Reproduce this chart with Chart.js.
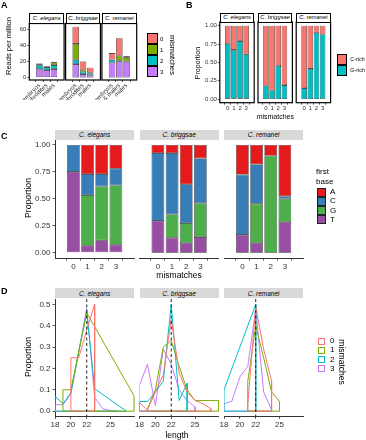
<!DOCTYPE html>
<html><head><meta charset="utf-8">
<script src="https://cdn.jsdelivr.net/npm/chart.js@4.4.1/dist/chart.umd.min.js"></script>
<style>
html,body{margin:0;padding:0;background:#fff;}
#wrap{position:relative;width:366px;height:440px;overflow:hidden;font-family:"Liberation Sans",Arial,sans-serif;background:#fff;}
canvas{position:absolute;left:0;top:0;}
.t{position:absolute;white-space:nowrap;line-height:1;color:#000;}
.box{position:absolute;box-sizing:border-box;}
</style></head><body><div id="wrap"></div>
<script>
// ---------------- DATA ----------------
const species = ["C. elegans", "C. briggsae", "C. remanei"];
const mismatchLevels = ["0", "1", "2", "3"];
const stagesElegans = ["embryos", "hermaphrodites", "males"];
const stagesBriggsae = ["embryos", "hermaphrodites", "males"];
const stagesRemanei = ["embryos", "females & males", "males"];
// Panel A: reads per million; rows = mismatches 0,1,2,3 ; columns = stages
const readsElegans  = [[1.0, 0.7, 0.8], [1.0, 0.6, 3.4], [5.0, 3.7, 5.0], [10.5, 9.2, 10.4]];
const readsBriggsae = [[21.6, 10.4, 5.9], [19.7, 2.5, 1.3], [5.3, 2.9, 2.5], [16.7, 4.2, 2.5]];
const readsRemanei  = [[8.1, 21.8, 1.3], [0.3, 6.2, 5.0], [3.7, 1.2, 0.8], [18.3, 19.6, 19.2]];
const readsTicks = [0, 20, 40, 60];
// Panel B: proportion G-rich per mismatch (C-rich = 1 - G-rich)
const richLevels = ["C-rich", "G-rich"];
const gRichElegans  = [0.75, 0.67, 0.79, 0.61];
const gRichBriggsae = [0.18, 0.12, 0.45, 0.19];
const gRichRemanei  = [0.15, 0.41, 0.90, 0.88];
const proportionTicks = [0, 0.25, 0.5, 0.75, 1];
const proportionLabels = ["0.00", "0.25", "0.50", "0.75", "1.00"];
// Panel C: first base proportions; rows = A,C,G,T ; columns = mismatches 0..3
const firstBases = ["A", "C", "G", "T"];
const baseElegans  = [[0, 0.27, 0.27, 0.22], [0.25, 0.195, 0.115, 0.155], [0, 0.47, 0.50, 0.55], [0.75, 0.065, 0.115, 0.075]];
const baseBriggsae = [[0.075, 0.075, 0.365, 0.125], [0.63, 0.57, 0.36, 0.415], [0, 0.215, 0.185, 0.315], [0.295, 0.14, 0.09, 0.145]];
const baseRemanei  = [[0.275, 0.18, 0.10, 0.475], [0.56, 0.365, 0, 0.025], [0, 0.365, 0.90, 0.215], [0.165, 0.09, 0, 0.285]];
// Panel D: length distributions per mismatch (lengths, proportions)
const lenElegans = [[20, 21, 22, 23], [19, 20, 22, 28], [18, 19, 20, 22, 23, 27], [18, 19, 20, 22, 23, 24, 25, 26]];
const propElegans = [[0.25, 0.25, 0.38, 0.50], [0.10, 0.10, 0.46, 0.07], [0.07, 0.035, 0.085, 0.47, 0.105, 0], [0.03, 0.03, 0.08, 0.48, 0.065, 0.012, 0.003, 0]];
const lenBriggsae = [[18, 19, 20, 21, 22, 23, 24, 25, 26, 27], [19, 20, 21, 22, 23, 24, 25, 26, 27, 28], [18, 19, 20, 21, 22, 23, 24], [18, 19, 20, 21, 22, 23, 24, 25]];
const propBriggsae = [[0.04, 0.005, 0.09, 0.17, 0.43, 0.18, 0.09, 0.05, 0.035, 0.012], [0.01, 0.10, 0.30, 0.33, 0.21, 0.10, 0.05, 0.05, 0.05, 0.05], [0.045, 0.045, 0.09, 0.14, 0.50, 0.05, 0.13], [0.12, 0.22, 0.025, 0.29, 0.22, 0.10, 0.05, 0.02]];
const lenRemanei = [[21, 22, 23, 24], [21, 22, 23, 24, 25], [18, 22], [18, 19, 20, 21, 22, 23, 24]];
const propRemanei = [[0.03, 0.49, 0.29, 0.14], [0.14, 0.40, 0.25, 0.09, 0.045], [0.10, 0.50], [0.035, 0.047, 0.16, 0.21, 0.48, 0.09, 0.005]];
const lengthTicks = [18, 20, 22, 25];
const proportionDTicks = [0, 0.1, 0.2, 0.3, 0.4, 0.5];
const modalLength = 22;

// ---------------- STYLE ----------------
const W = 366, H = 440;
const colMM = ['#F8766D', '#7CAE00', '#00BFC4', '#C77CFF'];
const colBase = ['#E41A1C', '#377EB8', '#4DAF4A', '#984EA3'];
const colRich = ['#F8766D', '#00BFC4'];
Chart.defaults.font.family = '"Liberation Sans", Arial, sans-serif';
Chart.defaults.color = '#333';

const wrap = document.getElementById('wrap');

Chart.register({
  id: 'frame',
  afterDatasetsDraw(chart, args, o) {
    if (!o || !o.on) return;
    const a = chart.chartArea, ctx = chart.ctx;
    ctx.save(); ctx.strokeStyle = '#000'; ctx.lineWidth = 1.2;
    ctx.strokeRect(a.left, a.top, a.right - a.left, a.bottom - a.top);
    ctx.restore();
  }
});
Chart.register({
  id: 'vline',
  afterDatasetsDraw(chart, args, o) {
    if (!o || o.x == null) return;
    const a = chart.chartArea, ctx = chart.ctx;
    const px = chart.scales.x.getPixelForValue(o.x);
    ctx.save(); ctx.strokeStyle = '#222'; ctx.lineWidth = 1; ctx.setLineDash([3, 2.5]);
    ctx.beginPath(); ctx.moveTo(px, a.top); ctx.lineTo(px, a.bottom); ctx.stroke();
    ctx.restore();
  }
});

const YW = 25, XH = 20;
function scaleX(o) {
  return {
    type: 'linear', min: o.min, max: o.max, stacked: !!o.stacked,
    afterBuildTicks: s => { s.ticks = o.ticks.map(v => ({ value: v })); },
    afterFit: s => { s.height = XH; s.paddingLeft = 0; s.paddingRight = 0; },
    ticks: { autoSkip: false, maxRotation: o.rot || 0, minRotation: o.rot || 0, padding: o.pad != null ? o.pad : 1,
      font: { size: o.size }, color: '#333', callback: (v, i) => o.labels[i] },
    grid: { display: true, drawOnChartArea: false, drawTicks: true, tickLength: o.tl || 2.5, color: '#333', lineWidth: 0.8 },
    border: { display: !!o.line, color: '#333', width: 1 }
  };
}
function scaleY(o) {
  return {
    type: 'linear', display: !!o.show, min: o.min, max: o.max, stacked: !!o.stacked,
    afterBuildTicks: s => { s.ticks = o.ticks.map(v => ({ value: v })); },
    afterFit: s => { s.width = o.show ? YW : 0; s.paddingTop = 0; s.paddingBottom = 0; },
    ticks: { autoSkip: false, padding: o.pad != null ? o.pad : 2, font: { size: o.size }, color: '#333',
      callback: (v, i) => o.labels[i] },
    grid: { display: true, drawOnChartArea: false, drawTicks: true, tickLength: o.tl || 2.5, color: '#333', lineWidth: 0.8 },
    border: { display: !!o.line, color: '#333', width: 1 }
  };
}
function facet(cfg) {
  const c = document.createElement('canvas');
  c.width = W; c.height = H; c.style.width = W + 'px'; c.style.height = H + 'px';
  wrap.appendChild(c);
  const showY = !!cfg.y.show;
  return new Chart(c, {
    type: cfg.type,
    data: { datasets: cfg.datasets },
    options: {
      responsive: false, animation: false, devicePixelRatio: 1, events: [],
      layout: { padding: { left: cfg.l - (showY ? YW : 0), top: cfg.t, right: W - cfg.r, bottom: H - cfg.b - XH } },
      plugins: { legend: { display: false }, tooltip: { enabled: false }, frame: { on: !!cfg.frame }, vline: { x: cfg.vline } },
      scales: { x: scaleX(cfg.x), y: scaleY(cfg.y) }
    }
  });
}
function txt(s, x, y, o = {}) {
  const d = document.createElement('div');
  d.className = 't'; d.textContent = s;
  d.style.fontSize = (o.size || 8) + 'px';
  if (o.italic) d.style.fontStyle = 'italic';
  if (o.bold) d.style.fontWeight = 'bold';
  d.style.color = o.color || '#000';
  d.style.left = x + 'px'; d.style.top = y + 'px';
  const ax = o.align === 'left' ? '0%' : o.align === 'right' ? '-100%' : '-50%';
  d.style.transform = `translate(${ax},-50%)` + (o.rot ? ` rotate(${o.rot}deg)` : '');
  wrap.appendChild(d);
}
function box(l, t, w, h, bg, border) {
  const d = document.createElement('div');
  d.className = 'box';
  d.style.left = l + 'px'; d.style.top = t + 'px'; d.style.width = w + 'px'; d.style.height = h + 'px';
  d.style.background = bg; if (border) d.style.border = border;
  wrap.appendChild(d);
}
function strip(l, t, w, h, label, bg, border, size) {
  box(l, t, w, h, bg, border);
  txt(label, l + w / 2, t + h / 2 + 0.3, { size: size, italic: true });
}

// ---------------- PANEL A ----------------
const aReads = [readsElegans, readsBriggsae, readsRemanei];
const aStages = [stagesElegans, stagesBriggsae, stagesRemanei];
const aLeft = [29.3, 65.6, 101.9], aW = 34.8, aTop = 23.5, aBot = 80;
aReads.forEach((rows, f) => {
  const ds = [3, 2, 1, 0].map(m => ({
    data: rows[m].map((v, i) => ({ x: i + 1, y: v })),
    backgroundColor: colMM[m], borderColor: '#000', borderWidth: 0.6, borderSkipped: false,
    barPercentage: 0.9, categoryPercentage: 1
  }));
  facet({ type: 'bar', datasets: ds, l: aLeft[f], t: aTop, r: aLeft[f] + aW, b: aBot, frame: true,
    x: { min: 0.4, max: 3.6, ticks: [1, 2, 3], labels: aStages[f], rot: 45, size: 6, stacked: true, tl: 2, pad: 0 },
    y: { show: f === 0, min: -3.2, max: 67.2, ticks: readsTicks, labels: readsTicks.map(String), size: 6, stacked: true, tl: 2, pad: 1 } });
  strip(aLeft[f], 13, aW, 11, species[f], '#fff', '1.2px solid #000', 5.8);
});
txt('Reads per million', 9.3, 46, { size: 7.5, rot: -90 });
[0, 1, 2, 3].forEach(m => {
  box(147, 33.3 + m * 11, 10.5, 11, colMM[m], '0.8px solid #000');
  txt(mismatchLevels[m], 160, 38.8 + m * 11, { size: 6, align: 'left' });
});
txt('mismatches', 171.5, 55, { size: 7.5, rot: 90 });
txt('A', 1, 5, { size: 9, bold: true, align: 'left' });

// ---------------- PANEL B ----------------
const bG = [gRichElegans, gRichBriggsae, gRichRemanei];
const bLeft = [219.8, 258, 296.2], bW = 34.4, bTop = 22, bBot = 102.7;
bG.forEach((g, f) => {
  const ds = [
    { data: g.map((v, i) => ({ x: i + 1, y: v })), backgroundColor: colRich[1] },
    { data: g.map((v, i) => ({ x: i + 1, y: 1 - v })), backgroundColor: colRich[0] }
  ].map(d => Object.assign(d, { borderColor: '#000', borderWidth: 0.6, borderSkipped: false, barPercentage: 0.9, categoryPercentage: 1 }));
  facet({ type: 'bar', datasets: ds, l: bLeft[f], t: bTop, r: bLeft[f] + bW, b: bBot, frame: true,
    x: { min: 0.4, max: 4.6, ticks: [1, 2, 3, 4], labels: mismatchLevels, size: 6, stacked: true, tl: 2, pad: 0 },
    y: { show: f === 0, min: -0.05, max: 1.05, ticks: proportionTicks, labels: proportionLabels, size: 6, stacked: true, tl: 2, pad: 1 } });
  strip(bLeft[f], 13, bW, 10, species[f], '#fff', '1.2px solid #000', 5.8);
});
txt('Proportion', 196.7, 63, { size: 7, rot: -90 });
txt('mismatches', 275.3, 115.5, { size: 7 });
[0, 1].forEach(k => {
  box(336.7, 54.3 + k * 11, 10.3, 11, colRich[k], '0.8px solid #000');
  txt(richLevels[k], 350.3, 59.6 + k * 11, { size: 5.4, align: 'left' });
});
txt('B', 186, 5, { size: 9, bold: true, align: 'left' });

// ---------------- PANEL C ----------------
const cBase = [baseElegans, baseBriggsae, baseRemanei];
const cLeft = [55, 139.5, 224], cW = 79.3, cTop = 139.6, cBot = 258.1;
cBase.forEach((rows, f) => {
  const ds = [3, 2, 1, 0].map(k => ({
    data: rows[k].map((v, i) => ({ x: i + 1, y: v })),
    backgroundColor: colBase[k], borderColor: '#222', borderWidth: 0.6, borderSkipped: false,
    barPercentage: 0.9, categoryPercentage: 1
  }));
  facet({ type: 'bar', datasets: ds, l: cLeft[f], t: cTop, r: cLeft[f] + cW, b: cBot,
    x: { min: 0.4, max: 4.6, ticks: [1, 2, 3, 4], labels: mismatchLevels, size: 8, stacked: true, line: true, tl: 2.5, pad: 1 },
    y: { show: f === 0, min: -0.05, max: 1.05, ticks: proportionTicks, labels: proportionLabels, size: 8, stacked: true, line: true, tl: 2.5, pad: 2 } });
  strip(cLeft[f], 130, cW, 9.6, species[f], '#D9D9D9', null, 6.5);
});
txt('Proportion', 28.3, 198, { size: 8.7, rot: -90 });
txt('mismatches', 179, 274.5, { size: 8.5 });
txt('first', 316, 171.7, { size: 8, align: 'left' });
txt('base', 316, 181.7, { size: 8, align: 'left' });
[0, 1, 2, 3].forEach(k => {
  box(316.7, 187.7 + k * 9.15, 9, 9.15, colBase[k], '0.7px solid #222');
  txt(firstBases[k], 330, 192.3 + k * 9.15, { size: 8, align: 'left' });
});
txt('C', 1, 135.5, { size: 9, bold: true, align: 'left' });

// ---------------- PANEL D ----------------
function poly(lens, props) {
  const pts = [{ x: lens[0], y: 0 }];
  lens.forEach((l, i) => pts.push({ x: l, y: props[i] }));
  pts.push({ x: lens[lens.length - 1], y: 0 });
  pts.push({ x: lens[0], y: 0 });
  return pts;
}
const dLen = [lenElegans, lenBriggsae, lenRemanei];
const dProp = [propElegans, propBriggsae, propRemanei];
const dLeft = [55, 139.5, 224], dW = 79.3, dTop = 299, dBot = 416.5;
dLen.forEach((lens, f) => {
  const ds = [0, 1, 2, 3].map(m => ({
    data: poly(lens[m], dProp[f][m]), showLine: true, borderColor: colMM[m], borderWidth: 1,
    pointRadius: 0, fill: false, tension: 0
  }));
  facet({ type: 'scatter', datasets: ds, l: dLeft[f], t: dTop, r: dLeft[f] + dW, b: dBot, vline: modalLength,
    x: { min: 18, max: 28, ticks: lengthTicks, labels: lengthTicks.map(String), size: 8, line: true, tl: 2.5, pad: 1 },
    y: { show: f === 0, min: -0.025, max: 0.525, ticks: proportionDTicks, labels: proportionDTicks.map(v => v.toFixed(1)), size: 8, line: true, tl: 2.5, pad: 2 } });
  strip(dLeft[f], 288.3, dW, 9.8, species[f], '#D9D9D9', null, 6.5);
});
txt('Proportion', 28.3, 357, { size: 8.7, rot: -90 });
txt('length', 177, 435, { size: 8.5 });
[0, 1, 2, 3].forEach(m => {
  box(316.7, 336.7 + m * 9.15, 9, 9.15, '#fff', null);
  box(317.5, 337.5 + m * 9.15, 7.4, 7.5, '#fff', '1px solid ' + colMM[m]);
  txt(mismatchLevels[m], 330, 341.3 + m * 9.15, { size: 8, align: 'left' });
});
txt('mismatches', 342, 362.3, { size: 8.5, rot: 90 });
txt('D', 1, 290.5, { size: 9, bold: true, align: 'left' });
</script>
</body></html>
